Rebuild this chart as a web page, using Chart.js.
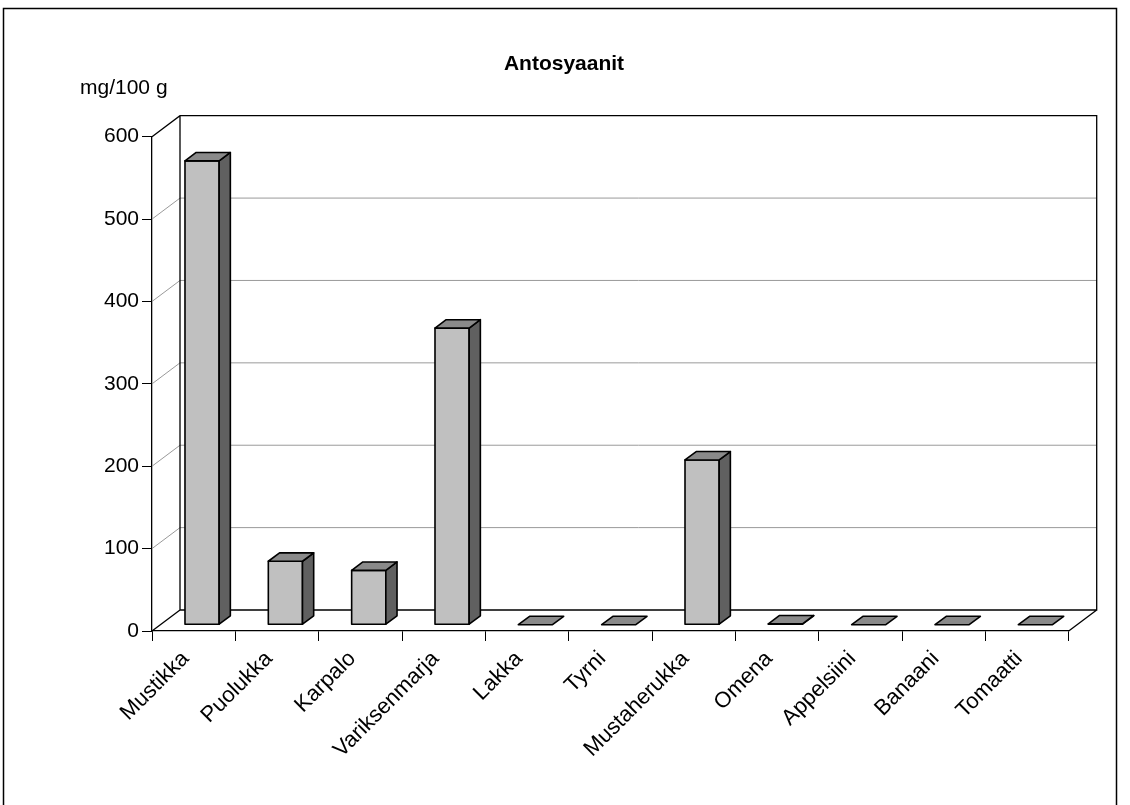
<!DOCTYPE html>
<html>
<head>
<meta charset="utf-8">
<script src="https://cdn.jsdelivr.net/npm/chart.js@4/dist/chart.umd.min.js"></script>
<style>
  html, body { margin: 0; padding: 0; background: #fff; }
  #wrap { width: 1130px; height: 805px; }
</style>
</head>
<body>
<div id="wrap"><canvas id="c" width="1130" height="805"></canvas></div>
<script>
// Anthocyanin content of berries, fruits and vegetables (mg / 100 g)
const categories = ['Mustikka', 'Puolukka', 'Karpalo', 'Variksenmarja', 'Lakka', 'Tyrni',
                    'Mustaherukka', 'Omena', 'Appelsiini', 'Banaani', 'Tomaatti'];
const anthocyanins = [563, 77, 66, 360, 0, 0, 200, 1, 0, 0, 0];
const yTicks = [0, 100, 200, 300, 400, 500, 600];
const chartTitle = 'Antosyaanit';
const unitLabel = 'mg/100 g';

const FONT = '"Liberation Sans", Arial, sans-serif';
// depth of the 3-D box (back wall offset from the front plane)
const DEPTH_X = 28, DEPTH_Y = -21;
// bars occupy this slice of the depth
const BAR_FRONT = 0.3, BAR_DEPTH = 0.4;

const box3d = {
  id: 'box3d',
  beforeDraw(chart) {
    const ctx = chart.ctx;
    ctx.save();
    ctx.fillStyle = '#fff';
    ctx.fillRect(0, 0, chart.width, chart.height);
    ctx.strokeStyle = '#000';
    ctx.lineWidth = 1.5;
    ctx.strokeRect(3.5, 8.5, 1113, 820);
    ctx.restore();
  },
  beforeDatasetsDraw(chart) {
    const ctx = chart.ctx;
    const { left, right, top, bottom } = chart.chartArea;
    const ys = chart.scales.y;
    ctx.save();
    // grid lines on the side wall and back wall
    ctx.strokeStyle = '#9a9a9a';
    ctx.lineWidth = 1;
    yTicks.forEach(v => {
      if (v === ys.min || v === ys.max) return;
      const py = ys.getPixelForValue(v);
      ctx.beginPath();
      ctx.moveTo(left, py);
      ctx.lineTo(left + DEPTH_X, py + DEPTH_Y);
      ctx.lineTo(right + DEPTH_X, py + DEPTH_Y);
      ctx.stroke();
    });
    // box edges
    ctx.strokeStyle = '#000';
    ctx.lineWidth = 1.3;
    ctx.beginPath();
    ctx.moveTo(left, top);
    ctx.lineTo(left + DEPTH_X, top + DEPTH_Y);
    ctx.lineTo(right + DEPTH_X, top + DEPTH_Y);
    ctx.lineTo(right + DEPTH_X, bottom + DEPTH_Y);
    ctx.lineTo(left + DEPTH_X, bottom + DEPTH_Y);
    ctx.lineTo(left + DEPTH_X, top + DEPTH_Y);
    ctx.moveTo(left, bottom);
    ctx.lineTo(left + DEPTH_X, bottom + DEPTH_Y);
    ctx.moveTo(right, bottom);
    ctx.lineTo(right + DEPTH_X, bottom + DEPTH_Y);
    ctx.stroke();
    ctx.restore();
  },
  afterDatasetsDraw(chart) {
    const ctx = chart.ctx;
    const meta = chart.getDatasetMeta(0);
    const fx = DEPTH_X * BAR_FRONT, fy = DEPTH_Y * BAR_FRONT;
    const bx = DEPTH_X * BAR_DEPTH, by = DEPTH_Y * BAR_DEPTH;
    ctx.save();
    ctx.strokeStyle = '#000';
    ctx.lineWidth = 1.6;
    ctx.lineJoin = 'round';
    meta.data.forEach(el => {
      const p = el.getProps(['x', 'y', 'base', 'width'], true);
      const x0 = p.x - p.width / 2 + fx, x1 = p.x + p.width / 2 + fx;
      const yt = Math.min(p.y, p.base) + fy, yb = Math.max(p.y, p.base) + fy;
      const poly = (pts, fill) => {
        ctx.beginPath();
        ctx.moveTo(pts[0][0], pts[0][1]);
        for (let i = 1; i < pts.length; i++) ctx.lineTo(pts[i][0], pts[i][1]);
        ctx.closePath();
        ctx.fillStyle = fill;
        ctx.fill();
        ctx.stroke();
      };
      if (yb - yt > 0.01) {
        poly([[x0, yt], [x1, yt], [x1, yb], [x0, yb]], '#c0c0c0');
        poly([[x1, yt], [x1 + bx, yt + by], [x1 + bx, yb + by], [x1, yb]], '#606060');
      }
      poly([[x0, yt], [x0 + bx, yt + by], [x1 + bx, yt + by], [x1, yt]], '#8a8a8a');
    });
    ctx.restore();
  },
  afterDraw(chart) {
    const ctx = chart.ctx;
    ctx.save();
    ctx.fillStyle = '#000';
    // chart title, centred on the page
    ctx.font = 'bold 21px ' + FONT;
    ctx.textAlign = 'center';
    ctx.textBaseline = 'middle';
    ctx.fillText(chartTitle, 564, 64);
    // unit label above the value axis
    ctx.font = '21px ' + FONT;
    ctx.textAlign = 'left';
    ctx.textBaseline = 'alphabetic';
    ctx.fillText(unitLabel, 80, 94);
    ctx.restore();
  }
};

new Chart(document.getElementById('c'), {
  type: 'bar',
  data: {
    labels: categories,
    datasets: [{
      label: chartTitle,
      data: anthocyanins,
      backgroundColor: 'rgba(0,0,0,0)',
      borderWidth: 0,
      categoryPercentage: 1,
      barPercentage: 0.41
    }]
  },
  options: {
    responsive: false,
    animation: false,
    devicePixelRatio: 1,
    layout: { padding: { left: 0, right: 61.3, top: 136.7, bottom: 0 } },
    plugins: {
      legend: { display: false },
      tooltip: { enabled: false },
      title: { display: false }
    },
    scales: {
      x: {
        offset: true,
        grid: { display: true, drawOnChartArea: false, drawTicks: true, tickLength: 10, color: '#000', offset: true },
        border: { display: true, color: '#000', width: 1.3 },
        ticks: {
          color: '#000',
          font: { family: FONT, size: 22 },
          minRotation: 45,
          maxRotation: 45,
          autoSkip: false,
          padding: 5,
          labelOffset: -8
        },
        afterFit(scale) { scale.height = 174; }
      },
      y: {
        min: 0,
        max: 600,
        grid: { display: true, drawOnChartArea: false, drawTicks: true, tickLength: 10, color: '#000' },
        border: { display: true, color: '#000', width: 1.3 },
        ticks: {
          color: '#000',
          font: { family: FONT, size: 21 },
          stepSize: 100,
          padding: 3,
          callback: (v) => yTicks.includes(v) ? String(v) : ''
        },
        afterFit(scale) { scale.width = 152; }
      }
    }
  },
  plugins: [box3d]
});
</script>
</body>
</html>
